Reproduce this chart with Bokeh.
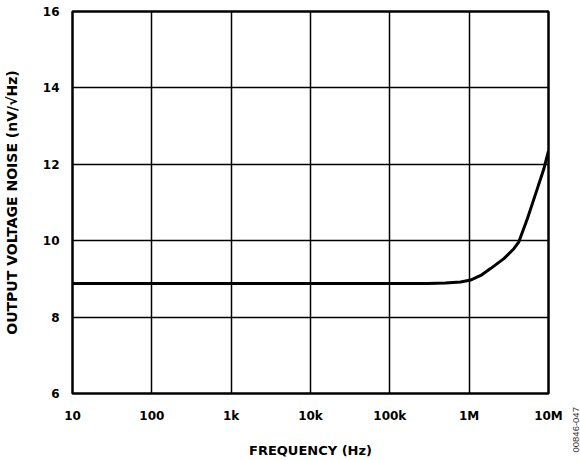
import numpy as np
from bokeh.plotting import figure
from bokeh.models import FixedTicker, Label
from bokeh.embed import file_html
from bokeh.resources import INLINE

freq_hz = [10, 100, 1e3, 1e4, 1e5, 3e5, 5e5, 7.8e5, 1.04e6, 1.4e6, 1.86e6, 2.74e6, 3.66e6, 4.23e6, 5.4e6, 7.2e6, 8.7e6, 1e7]
noise_nv = [8.88, 8.88, 8.88, 8.88, 8.88, 8.88, 8.89, 8.92, 8.97, 9.09, 9.27, 9.53, 9.79, 9.97, 10.57, 11.35, 11.87, 12.35]

x_ticks = [10, 100, 1e3, 1e4, 1e5, 1e6, 1e7]
x_tick_labels = ["10", "100", "1k", "10k", "100k", "1M", "10M"]
y_ticks = [6, 8, 10, 12, 14, 16]

x_title = "FREQUENCY (Hz)"
y_title = "OUTPUT VOLTAGE NOISE (nV/√Hz)"
fig_id = "00846-047"

FONT = "DejaVu Sans"

p = figure(width=580, height=460, x_axis_type="log", x_range=(10, 1e7), y_range=(6, 16),
           output_backend="svg", toolbar_location=None,
           min_border_left=71, min_border_right=32, min_border_top=11, min_border_bottom=64)

p.outline_line_color = "black"
p.outline_line_width = 2.5
p.background_fill_color = "white"
p.border_fill_color = "white"

p.xaxis.ticker = FixedTicker(ticks=x_ticks)
p.xaxis.major_label_overrides = {t: l for t, l in zip(x_ticks, x_tick_labels)}
p.yaxis.ticker = FixedTicker(ticks=y_ticks)

for ax in (p.xaxis[0], p.yaxis[0]):
    ax.axis_line_color = None
    ax.major_tick_line_color = None
    ax.minor_tick_line_color = None
    ax.major_tick_out = 0
    ax.major_tick_in = 0
    ax.minor_tick_out = 0
    ax.minor_tick_in = 0
    ax.major_label_text_font = FONT
    ax.major_label_text_font_style = "bold"
    ax.major_label_text_font_size = "12px"
    ax.major_label_text_color = "black"
    ax.axis_label_text_font = FONT
    ax.axis_label_text_font_style = "bold"
    ax.axis_label_text_color = "black"

p.xaxis.major_label_standoff = 15
p.yaxis.major_label_standoff = 13
p.xaxis.axis_label = x_title
p.xaxis.axis_label_text_font_size = "13px"
p.xaxis.axis_label_standoff = 17
p.yaxis.axis_label = y_title
p.yaxis.axis_label_text_font_size = "14px"
p.yaxis.axis_label_standoff = 20

p.xgrid.ticker = FixedTicker(ticks=x_ticks)
p.ygrid.ticker = FixedTicker(ticks=y_ticks)
for g in (p.xgrid[0], p.ygrid[0]):
    g.grid_line_color = "black"
    g.grid_line_width = 1.5
    g.grid_line_alpha = 1.0

p.line(freq_hz, noise_nv, line_color="black", line_width=3)

p.add_layout(Label(x=27, y=-59, x_units="screen", y_units="screen", text=fig_id, angle=np.pi / 2,
                   text_align="left", text_baseline="middle",
                   text_font="Liberation Sans", text_font_size="9.5px", text_color="#333333"), "right")

open("out.html", "w").write(file_html(p, INLINE))
